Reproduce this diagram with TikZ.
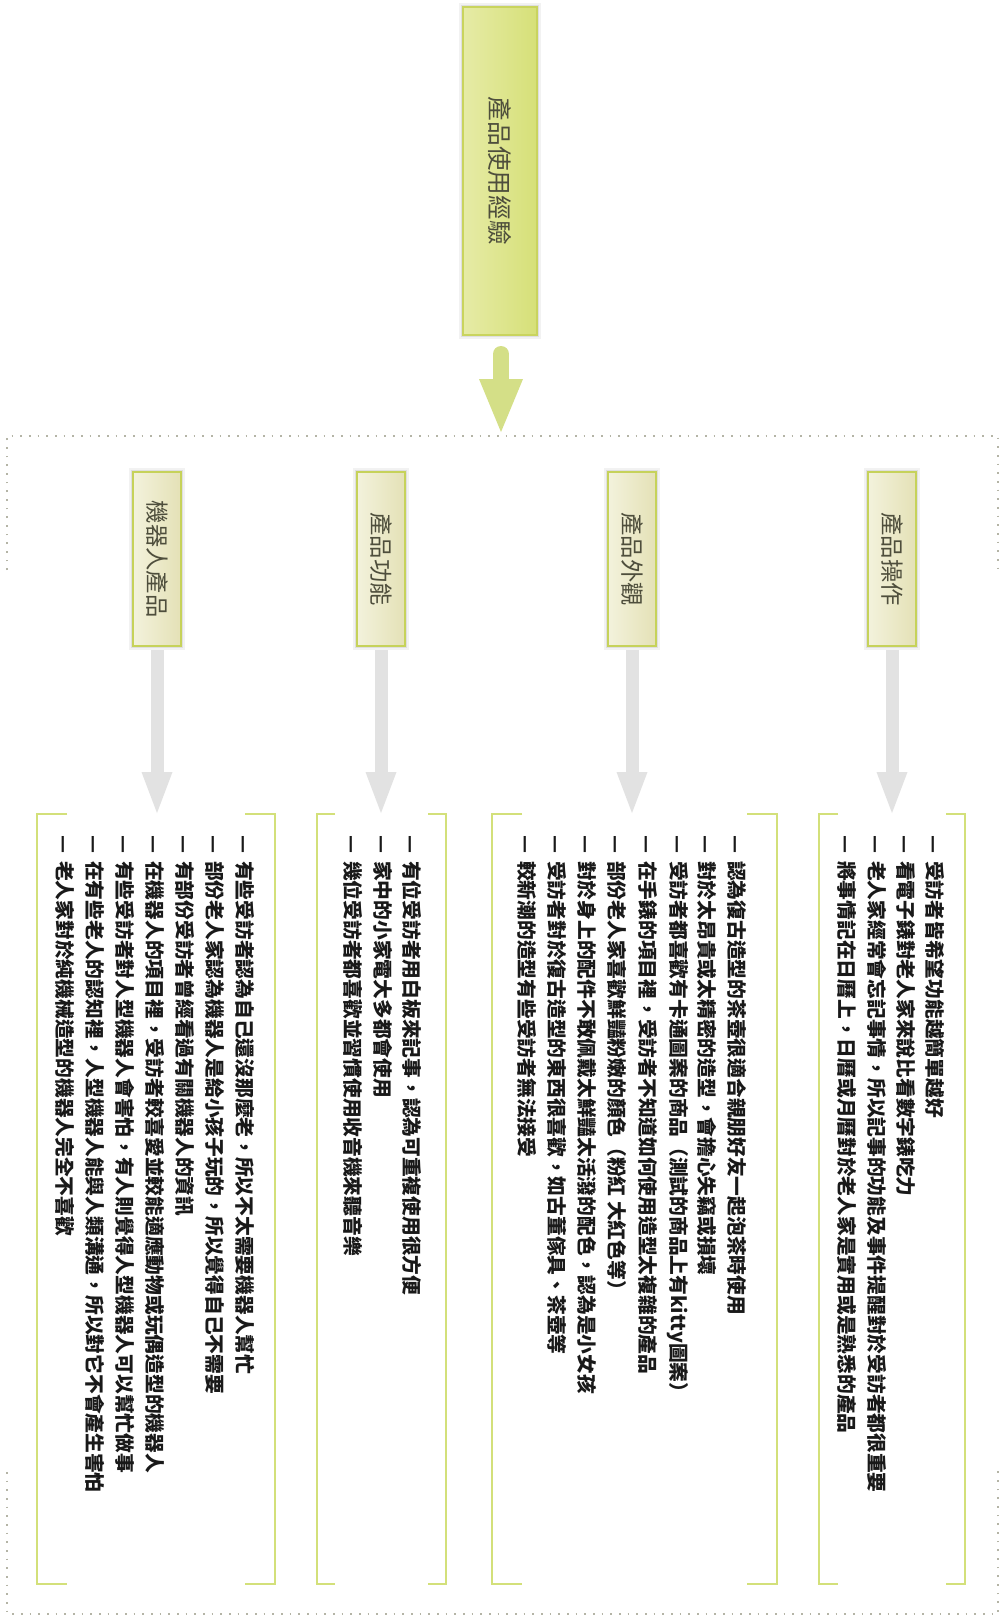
\documentclass[tikz,border=0pt]{standalone}
\usepackage{fontspec}
\usepackage{graphicx}
\usetikzlibrary{calc}
\newfontfamily\cjk{Noto Sans CJK TC}
\definecolor{topfillA}{HTML}{E6EBA6}
\definecolor{topfillB}{HTML}{D6E078}
\definecolor{topborder}{HTML}{C9D45E}
\definecolor{catfillA}{HTML}{F3F2DC}
\definecolor{catfillB}{HTML}{E4E1B6}
\definecolor{catborder}{HTML}{C6D25A}
\definecolor{bigarrowc}{HTML}{D4DF87}
\definecolor{grayarrowc}{HTML}{E2E2E2}
\definecolor{brkc}{HTML}{D3E07A}
\definecolor{dotc}{HTML}{B4B4A6}
\definecolor{titlec}{HTML}{4E4E3C}
\newcommand\itemfont{\cjk\bfseries\fontsize{14.8}{16}\selectfont}
\newcommand\titlefont{\cjk\fontsize{18.5}{20}\selectfont}
\newcommand\catfont{\cjk\fontsize{17.5}{19}\selectfont}
\newcommand\dsh{—\hspace{0.4em}}
\newcommand\brk[3]{%
  \draw[brkline] (#1+#3,814) -- (#1,814) -- (#1,1584) -- (#1+#3,1584);
  \draw[brkline] (#2-#3,814) -- (#2,814) -- (#2,1584) -- (#2-#3,1584);}
\begin{document}
\begin{tikzpicture}[x=0.75pt,y=-0.75pt,
  glow/.style={preaction={draw=black,line width=6pt,opacity=0.05},
               preaction={draw=black,line width=3pt,opacity=0.08}},
  topbox/.style={glow,draw=topborder,line width=1.5pt,left color=topfillA,right color=topfillB,
                 minimum width=55.5pt,minimum height=246pt,inner sep=0pt,text=titlec},
  catbox/.style={glow,draw=catborder,line width=2pt,left color=catfillA,right color=catfillB,
                 minimum width=36pt,minimum height=130.5pt,inner sep=0pt,text=titlec},
  item/.style={rotate=-90,anchor=west,inner sep=0pt,font=\itemfont,text=black!90},
  grayarr/.style={grayarrowc},
  brkline/.style={draw=brkc,line width=1.6pt},
  dotline/.style={draw=dotc,line width=1.3pt,dash pattern=on 1.3pt off 5.2pt}]
\useasboundingbox (0,0) rectangle (1002,1616);
\fill[white] (0,0) rectangle (1002,1616);

% top box and big arrow
\node[topbox] (top) at (500,171) {\rotatebox{-90}{\titlefont 產品使用經驗}};
\coordinate (ta) at (501,432);
\draw[bigarrowc,line width=12pt,line cap=round] ($(ta |- top.south)+(0,18)$) -- ($(ta)+(0,-50)$);
\fill[bigarrowc] (ta) -- ($(ta)+(-22,-53)$) -- ($(ta)+(22,-53)$) -- cycle;

% dotted frame
\draw[dotline] (7,570) -- (7,436) -- (998,436) -- (998,568);
\draw[dotline] (7,1472) -- (7,1614) -- (998,1614) -- (998,1470);

% category boxes
\node[catbox] (c1) at (157,559) {\rotatebox{-90}{\catfont 機器人產品}};
\node[catbox] (c2) at (381,559) {\rotatebox{-90}{\catfont 產品功能}};
\node[catbox] (c3) at (632,559) {\rotatebox{-90}{\catfont 產品外觀}};
\node[catbox] (c4) at (892,559) {\rotatebox{-90}{\catfont 產品操作}};

% gray arrows
\coordinate (t1) at (157,813);
\coordinate (t2) at (381,813);
\coordinate (t3) at (632,813);
\coordinate (t4) at (892,813);
\foreach \c/\t in {c1/t1,c2/t2,c3/t3,c4/t4}{
  \draw[grayarr,line width=9.75pt] ($(\t |- \c.south)+(0,3)$) -- ($(\t)+(0,-40)$);
  \fill[grayarr] (\t) -- ($(\t)+(-15.5,-41)$) -- ($(\t)+(15.5,-41)$) -- cycle;
}

% brackets
\brk{37}{275}{30}
\brk{317}{446}{18}
\brk{492}{777}{30}
\brk{819}{965}{19}

% group 1
\node[item] (a1) at (245,835) {\dsh 有些受訪者認為自己還沒那麼老，所以不太需要機器人幫忙};
\node[item] (a2) at (215,835) {\dsh 部份老人家認為機器人是給小孩子玩的，所以覺得自己不需要};
\node[item] (a3) at (185,835) {\dsh 有部份受訪者曾經看過有關機器人的資訊};
\node[item] (a4) at (155,835) {\dsh 在機器人的項目裡，受訪者較喜愛並較能適應動物或玩偶造型的機器人};
\node[item] (a5) at (125,835) {\dsh 有些受訪者對人型機器人會害怕，有人則覺得人型機器人可以幫忙做事};
\node[item] (a6) at (95,835) {\dsh 在有些老人的認知裡，人型機器人能與人類溝通，所以對它不會產生害怕};
\node[item] (a7) at (65,835) {\dsh 老人家對於純機械造型的機器人完全不喜歡};

% group 2
\node[item] (b1) at (412,835) {\dsh 有位受訪者用白板來記事，認為可重複使用很方便};
\node[item] (b2) at (383,835) {\dsh 家中的小家電大多都會使用};
\node[item] (b3) at (353,835) {\dsh 幾位受訪者都喜歡並習慣使用收音機來聽音樂};

% group 3
\node[item] (d1) at (737,835) {\dsh 認為復古造型的茶壺很適合親朋好友一起泡茶時使用};
\node[item] (d2) at (707,835) {\dsh 對於太昂貴或太精密的造型，會擔心失竊或損壞};
\node[item] (d3) at (678,835) {\dsh 受訪者都喜歡有卡通圖案的商品（測試的商品上有kitty圖案）};
\node[item] (d4) at (648,835) {\dsh 在手錶的項目裡，受訪者不知道如何使用造型太複雜的產品};
\node[item] (d5) at (617,835) {\dsh 部份老人家喜歡鮮豔粉嫩的顏色（粉紅 大紅色等）};
\node[item] (d6) at (587,835) {\dsh 對於身上的配件不敢佩戴太鮮豔太活潑的配色，認為是小女孩};
\node[item] (d7) at (557,835) {\dsh 受訪者對於復古造型的東西很喜歡，如古董傢具、茶壺等};
\node[item] (d8) at (527,835) {\dsh 較新潮的造型有些受訪者無法接受};

% group 4
\node[item] (e1) at (935,835) {\dsh 受訪者皆希望功能越簡單越好};
\node[item] (e2) at (906,835) {\dsh 看電子錶對老人家來說比看數字錶吃力};
\node[item] (e3) at (877,835) {\dsh 老人家經常會忘記事情，所以記事的功能及事件提醒對於受訪者都很重要};
\node[item] (e4) at (847,835) {\dsh 將事情記在日曆上，日曆或月曆對於老人家是實用或是熟悉的產品};
\end{tikzpicture}
\end{document}
